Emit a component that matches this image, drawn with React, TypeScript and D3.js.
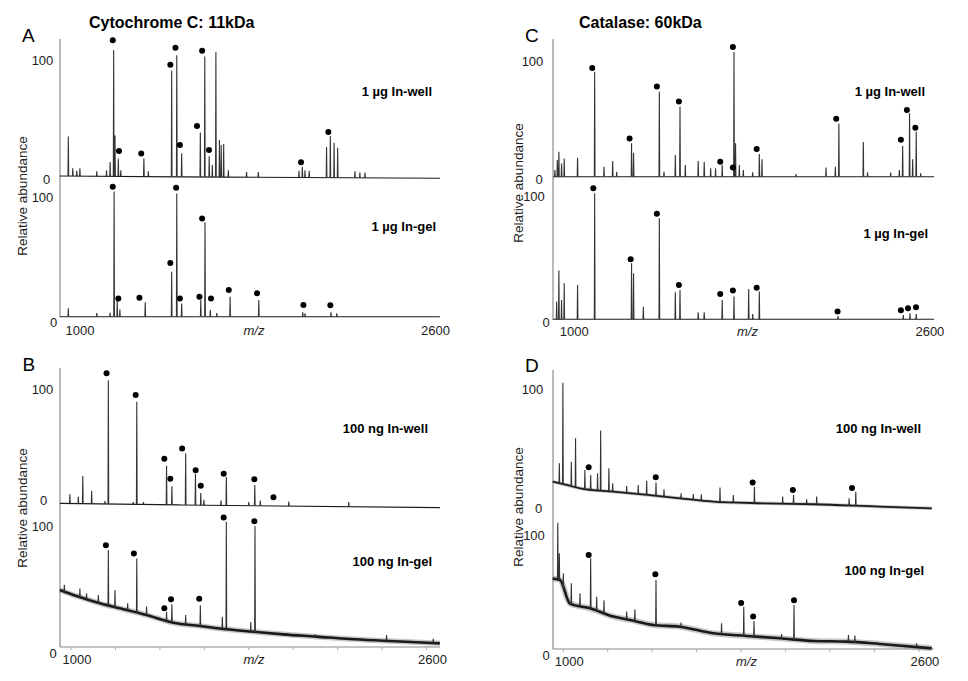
import React from 'react';
import * as d3 from 'd3';

type Pt = [number, number];

// ---------- Panel A: Cytochrome C, 1 µg ----------
const aWellBase: Pt[] = [[950, 0], [1700, -1], [2660, -2]];
const aWellPeaks: Pt[] = [[988, 34], [1008, 6.6], [1026, 4.6], [1040, 6.6], [1116, 4], [1160, 5], [1176, 12], [1192, 108.6], [1198, 35], [1213, 15], [1224, 5], [1328, 15], [1348, 4], [1453, 91], [1476, 104], [1498, 19.5], [1582, 37.6], [1602, 103], [1622, 17], [1636, 9.5], [1652, 107], [1668, 31], [1676, 26.7], [1687, 27.6], [1708, 5], [1790, 3.5], [1843, 3.5], [2026, 4.6], [2041, 8], [2053, 5], [2072, 4.6], [2150, 25], [2167, 34.5], [2184, 28.7], [2200, 24.4], [2278, 4], [2300, 3], [2323, 3]];
const aWellDots: Pt[] = [[1188, 117], [1216, 21.5], [1316, 19.5], [1447, 96], [1470, 110.6], [1490, 26.7], [1567, 43], [1590, 108], [1621, 22.4], [2035, 11.8], [2158, 38]];

const aGelBase: Pt[] = [[950, 0], [2660, 0]];
const aGelPeaks: Pt[] = [[988, 7], [1116, 3], [1176, 3.3], [1194, 104.5], [1208, 14], [1220, 6], [1334, 12], [1453, 37.6], [1476, 103], [1498, 11], [1584, 14], [1603, 79], [1627, 5.6], [1656, 3], [1716, 16.7], [1845, 14], [2043, 3.6], [2053, 2.8], [2170, 3.6], [2196, 2.8]];
const aGelDots: Pt[] = [[1188, 108.6], [1213, 15.3], [1308, 15.9], [1447, 44.8], [1473, 107.8], [1490, 15.3], [1578, 16.7], [1590, 82], [1630, 15.3], [1710, 22.3], [1837, 19.5], [2046, 9.7], [2167, 9.5]];

// ---------- Panel B: Cytochrome C, 100 ng ----------
const bWellBase: Pt[] = [[950, 0], [1500, -1.5], [2660, -3.8]];
const bWellPeaks: Pt[] = [[995, 8], [1033, 6], [1053, 24], [1093, 11], [1153, 2], [1168, 108], [1280, 1], [1296, 89], [1326, 1], [1430, 33], [1454, 15], [1516, 44], [1560, 26], [1584, 9], [1598, 3], [1675, 2.5], [1699, 23], [1800, 1], [1827, 16], [1852, 2.5], [1980, 1.5], [2250, 1]];
const bWellDots: Pt[] = [[1160, 114], [1291, 95], [1420, 39], [1447, 21.6], [1500, 48], [1561, 29], [1584, 15.5], [1687, 26], [1825, 21], [1911, 5.3]];

const bGelBase: Pt[] = [[950, 46.7], [1025, 41.7], [1130, 35.6], [1220, 31.4], [1340, 25.8], [1460, 19.4], [1580, 16.7], [1700, 13.9], [1820, 11.9], [1955, 9.7], [2105, 7.8], [2255, 5.8], [2405, 4.4], [2555, 3.1], [2660, 2.2]];
const bGelPeaks: Pt[] = [[970, 51], [1040, 48], [1070, 44], [1123, 42.5], [1168, 80], [1198, 46.7], [1255, 35.6], [1296, 73], [1340, 32.8], [1430, 28.6], [1454, 34.7], [1516, 25.8], [1582, 34], [1681, 24.4], [1699, 103.6], [1809, 20], [1828, 100], [2098, 9.7], [2420, 9.2], [2630, 6]];
const bGelDots: Pt[] = [[1157, 84], [1283, 77], [1420, 31.4], [1450, 39], [1577, 39.4], [1687, 107], [1825, 104]];

// ---------- Panel C: Catalase, 1 µg ----------
const cWellBase: Pt[] = [[954, 0], [2668, 0]];
const cWellPeaks: Pt[] = [[962, 5.8], [973, 14.4], [980, 21.6], [992, 11.5], [1004, 15.8], [1064, 16.4], [1141, 90.8], [1183, 8.6], [1222, 13.5], [1240, 4.3], [1307, 28.8], [1316, 20.7], [1432, 73.5], [1453, 4.3], [1504, 18.7], [1525, 60.5], [1549, 10], [1607, 13.5], [1634, 13], [1663, 7.2], [1685, 7.2], [1715, 10], [1768, 108], [1775, 28.8], [1792, 10], [1810, 5.8], [1852, 3.7], [1882, 19.6], [1894, 15], [2047, 2.3], [2182, 8], [2224, 8.6], [2240, 46], [2350, 30], [2369, 3.7], [2473, 3.5], [2512, 5.8], [2527, 26.5], [2558, 54.8], [2572, 15], [2588, 38.9], [2608, 2.9]];
const cWellDots: Pt[] = [[1130, 94], [1298, 33], [1421, 78], [1520, 65], [1706, 13], [1763, 112], [1763, 8], [1870, 24], [2228, 50], [2519, 32], [2546, 57.6], [2584, 42.4]];

const cGelBase: Pt[] = [[954, 0], [2668, 0]];
const cGelPeaks: Pt[] = [[970, 14.4], [980, 39.7], [992, 15.8], [1004, 29.3], [1064, 28], [1141, 102.7], [1307, 45.7], [1316, 37.5], [1360, 10.3], [1432, 82.3], [1504, 22], [1525, 23.9], [1607, 5.7], [1634, 5.7], [1715, 15.8], [1768, 18.5], [1834, 24.7], [1852, 4.3], [1882, 22.6], [2236, 2.7], [2530, 3.5], [2560, 4.9], [2588, 4.3]];
const cGelDots: Pt[] = [[1135, 106.8], [1303, 49], [1421, 86], [1520, 28], [1706, 20.7], [1763, 23.4], [1870, 25.8], [2234, 6.3], [2519, 7.3], [2551, 9], [2587, 9.8]];

// ---------- Panel D: Catalase, 100 ng ----------
const dWellBase: Pt[] = [[952, 22.4], [1015, 19.6], [1075, 16.8], [1225, 14], [1380, 11.2], [1525, 8.4], [1675, 5.6], [1900, 4.2], [2125, 3.4], [2425, 1.4], [2658, 0]];
const dWellPeaks: Pt[] = [[982, 37.8], [998, 105.6], [1036, 39.2], [1055, 58.8], [1097, 32.2], [1123, 28], [1154, 29.4], [1168, 65.3], [1205, 33.6], [1222, 21], [1285, 18.8], [1337, 19.6], [1375, 23.2], [1417, 21.6], [1453, 16], [1530, 12.6], [1585, 12], [1621, 11.8], [1705, 17.4], [1765, 11.2], [1860, 18.2], [1987, 9.8], [2036, 11.2], [2095, 7.6], [2140, 9.8], [2286, 8.4], [2316, 14]];
const dWellDots: Pt[] = [[1114, 34.5], [1416, 26], [1852, 21.6], [2033, 15.4], [2299, 17]];

const dGelBase: Pt[] = [[952, 62], [985, 60.6], [1030, 40], [1120, 35.9], [1225, 28.6], [1300, 25.7], [1405, 21.3], [1525, 19.8], [1675, 14], [1825, 11.7], [1975, 9.6], [2125, 7.3], [2275, 6.7], [2425, 4.7], [2658, 0.9]];
const dGelPeaks: Pt[] = [[975, 110.8], [982, 84], [1000, 66.5], [1036, 57.7], [1075, 49], [1123, 79.6], [1150, 46], [1183, 43], [1285, 33], [1322, 35], [1417, 60.6], [1530, 23.3], [1712, 22.7], [1812, 37.3], [1858, 24.8], [1982, 13.4], [2038, 38.8], [2283, 12.5], [2312, 12], [2590, 5.2]];
const dGelDots: Pt[] = [[1114, 82.5], [1414, 65.6], [1800, 40.5], [1854, 28.6], [2038, 43]];

const xTickLabels = [1000, 2600];
const xMinorTicks = [1000, 1200, 1400, 1600, 1800, 2000, 2200, 2400, 2600];

const FONT = 'Liberation Sans, Arial, Helvetica, sans-serif';

type Sub = {
  zeroY: number; hundredY: number; base: Pt[]; peaks: Pt[]; dots: Pt[];
  noiseW: number; halo: number; label: string; labelX: number; labelY: number;
  zeroLabelX: number; zeroLabelDy: number; hundredLabelX: number;
};

type Panel = {
  letter: string; letterX: number; letterY: number;
  title?: string; titleX?: number; titleY?: number;
  x0: number; x1: number; d0: number; d1: number;
  top: number; bottom: number; axisLine: boolean;
  tickLabelY: number; tickLabelDx: number; mzDx: number;
  yTitleX: number; yTitleY: number;
  subs: Sub[];
};

const panels: Panel[] = [
  {
    letter: 'A', letterX: 22, letterY: 42, title: 'Cytochrome C: 11kDa', titleX: 89, titleY: 28,
    x0: 60, x1: 440, d0: 950.5, d1: 2660.5, top: 39, bottom: 317, axisLine: false,
    tickLabelY: 335, tickLabelDx: 9, mzDx: 4, yTitleX: 26.5, yTitleY: 196,
    subs: [
      { zeroY: 176, hundredY: 60, base: aWellBase, peaks: aWellPeaks, dots: aWellDots, noiseW: 1.1, halo: 0, label: '1 µg In-well', labelX: 432, labelY: 95.5, zeroLabelX: 46.5, zeroLabelDy: 3, hundredLabelX: 42.5 },
      { zeroY: 316.7, hundredY: 197, base: aGelBase, peaks: aGelPeaks, dots: aGelDots, noiseW: 1.1, halo: 0, label: '1 µg In-gel', labelX: 436, labelY: 231, zeroLabelX: 53.5, zeroLabelDy: 6, hundredLabelX: 42.5 },
    ],
  },
  {
    letter: 'B', letterX: 22.5, letterY: 371,
    x0: 60, x1: 440, d0: 950.5, d1: 2660.5, top: 368, bottom: 647, axisLine: true,
    tickLabelY: 664, tickLabelDx: 6, mzDx: 4, yTitleX: 26.5, yTitleY: 508,
    subs: [
      { zeroY: 503.3, hundredY: 389.3, base: bWellBase, peaks: bWellPeaks, dots: bWellDots, noiseW: 1.2, halo: 0, label: '100 ng In-well', labelX: 428, labelY: 432.5, zeroLabelX: 43.5, zeroLabelDy: -3, hundredLabelX: 42.5 },
      { zeroY: 646, hundredY: 526, base: bGelBase, peaks: bGelPeaks, dots: bGelDots, noiseW: 2.6, halo: 5.5, label: '100 ng In-gel', labelX: 432, labelY: 566, zeroLabelX: 53, zeroLabelDy: 7, hundredLabelX: 42.5 },
    ],
  },
  {
    letter: 'C', letterX: 525, letterY: 42, title: 'Catalase: 60kDa', titleX: 579, titleY: 28,
    x0: 553, x1: 934, d0: 953.5, d1: 2668, top: 39, bottom: 320, axisLine: false,
    tickLabelY: 336, tickLabelDx: 11, mzDx: 4, yTitleX: 522.5, yTitleY: 183,
    subs: [
      { zeroY: 176.7, hundredY: 61, base: cWellBase, peaks: cWellPeaks, dots: cWellDots, noiseW: 1.1, halo: 0, label: '1 µg In-well', labelX: 925, labelY: 96, zeroLabelX: 539, zeroLabelDy: 2.5, hundredLabelX: 532.5 },
      { zeroY: 319.3, hundredY: 196.6, base: cGelBase, peaks: cGelPeaks, dots: cGelDots, noiseW: 1.1, halo: 0, label: '1 µg In-gel', labelX: 928, labelY: 237.5, zeroLabelX: 546, zeroLabelDy: 3.5, hundredLabelX: 534 },
    ],
  },
  {
    letter: 'D', letterX: 525, letterY: 372,
    x0: 553, x1: 934, d0: 953.5, d1: 2668, top: 370, bottom: 649, axisLine: true,
    tickLabelY: 666, tickLabelDx: 6, mzDx: 3, yTitleX: 522.5, yTitleY: 507,
    subs: [
      { zeroY: 508.3, hundredY: 389.3, base: dWellBase, peaks: dWellPeaks, dots: dWellDots, noiseW: 1.8, halo: 3.5, label: '100 ng In-well', labelX: 921, labelY: 432.5, zeroLabelX: 538.5, zeroLabelDy: 0, hundredLabelX: 532.5 },
      { zeroY: 649.3, hundredY: 535, base: dGelBase, peaks: dGelPeaks, dots: dGelDots, noiseW: 2.6, halo: 6, label: '100 ng In-gel', labelX: 924, labelY: 575, zeroLabelX: 546, zeroLabelDy: 6, hundredLabelX: 534 },
    ],
  },
];

function Spectrum({ x, sub }: { x: d3.ScaleLinear<number, number>; sub: Sub }) {
  const y = d3.scaleLinear().domain([0, 100]).range([sub.zeroY, sub.hundredY]);
  const baseAt = d3.scaleLinear().domain(sub.base.map((d) => d[0])).range(sub.base.map((d) => d[1]));
  const bandLine = d3.line<Pt>().x((d) => x(d[0])).y((d) => y(d[1])).curve(d3.curveMonotoneX);
  const peakPath = sub.peaks
    .map(([m, t]) => `M${x(m - 1.6)},${y(baseAt(m - 1.6))}L${x(m)},${y(t)}L${x(m + 1.6)},${y(baseAt(m + 1.6))}`)
    .join('');
  return (
    <g>
      {sub.halo > 0 && (
        <path d={bandLine(sub.base) || ''} stroke="#9a9a9a" strokeOpacity={0.55} strokeWidth={sub.halo} fill="none" strokeLinejoin="round" />
      )}
      <path d={bandLine(sub.base) || ''} stroke="#1a1a1a" strokeWidth={sub.noiseW} fill="none" strokeLinejoin="round" />
      <path d={peakPath} stroke="#333" strokeWidth={1.1} fill="none" />
      {sub.dots.map(([m, l], i) => (
        <circle key={i} cx={x(m)} cy={y(l)} r={3} fill="#000" />
      ))}
      <text x={sub.labelX} y={sub.labelY} textAnchor="end" fontFamily={FONT} fontWeight="bold" fontSize={13} fill="#000">
        {sub.label}
      </text>
      <text x={sub.hundredLabelX} y={sub.hundredY} dy="0.35em" textAnchor="middle" fontFamily={FONT} fontSize={13} fill="#222">100</text>
      <text x={sub.zeroLabelX} y={sub.zeroY + sub.zeroLabelDy} dy="0.35em" textAnchor="middle" fontFamily={FONT} fontSize={13} fill="#222">0</text>
    </g>
  );
}

function PanelView({ p }: { p: Panel }) {
  const x = d3.scaleLinear().domain([p.d0, p.d1]).range([p.x0, p.x1]);
  return (
    <g>
      <text x={p.letterX} y={p.letterY} fontFamily={FONT} fontSize={19} fill="#000">{p.letter}</text>
      {p.title && (
        <text x={p.titleX} y={p.titleY} fontFamily={FONT} fontSize={16} fontWeight="bold" fill="#000">{p.title}</text>
      )}
      <line x1={p.x0} x2={p.x0} y1={p.top} y2={p.bottom} stroke="#777" strokeWidth={1} />
      {p.axisLine && (
        <g>
          <line x1={p.x0} x2={p.x1} y1={p.bottom} y2={p.bottom} stroke="#888" strokeWidth={1} />
          {xMinorTicks.map((t) => (
            <line key={t} x1={x(t)} x2={x(t)} y1={p.bottom} y2={p.bottom + 3} stroke="#aaa" strokeWidth={1} />
          ))}
        </g>
      )}
      {p.subs.map((s, i) => (
        <Spectrum key={i} x={x} sub={s} />
      ))}
      {xTickLabels.map((t) => (
        <text key={t} x={x(t) + p.tickLabelDx} y={p.tickLabelY} textAnchor="middle" fontFamily={FONT} fontSize={13} fill="#222">{t}</text>
      ))}
      <text x={(p.x0 + p.x1) / 2 + p.mzDx} y={p.tickLabelY} textAnchor="middle" fontFamily={FONT} fontSize={13} fontStyle="italic" fill="#222">m/z</text>
      <text transform={`translate(${p.yTitleX},${p.yTitleY}) rotate(-90)`} textAnchor="middle" fontFamily={FONT} fontSize={13.5} fill="#222">Relative abundance</text>
    </g>
  );
}

export default function App() {
  return (
    <svg width={968} height={681} style={{ position: 'absolute', left: 0, top: 0, background: '#fff' }}>
      <rect width={968} height={681} fill="#fff" />
      {panels.map((p) => (
        <PanelView key={p.letter} p={p} />
      ))}
    </svg>
  );
}
